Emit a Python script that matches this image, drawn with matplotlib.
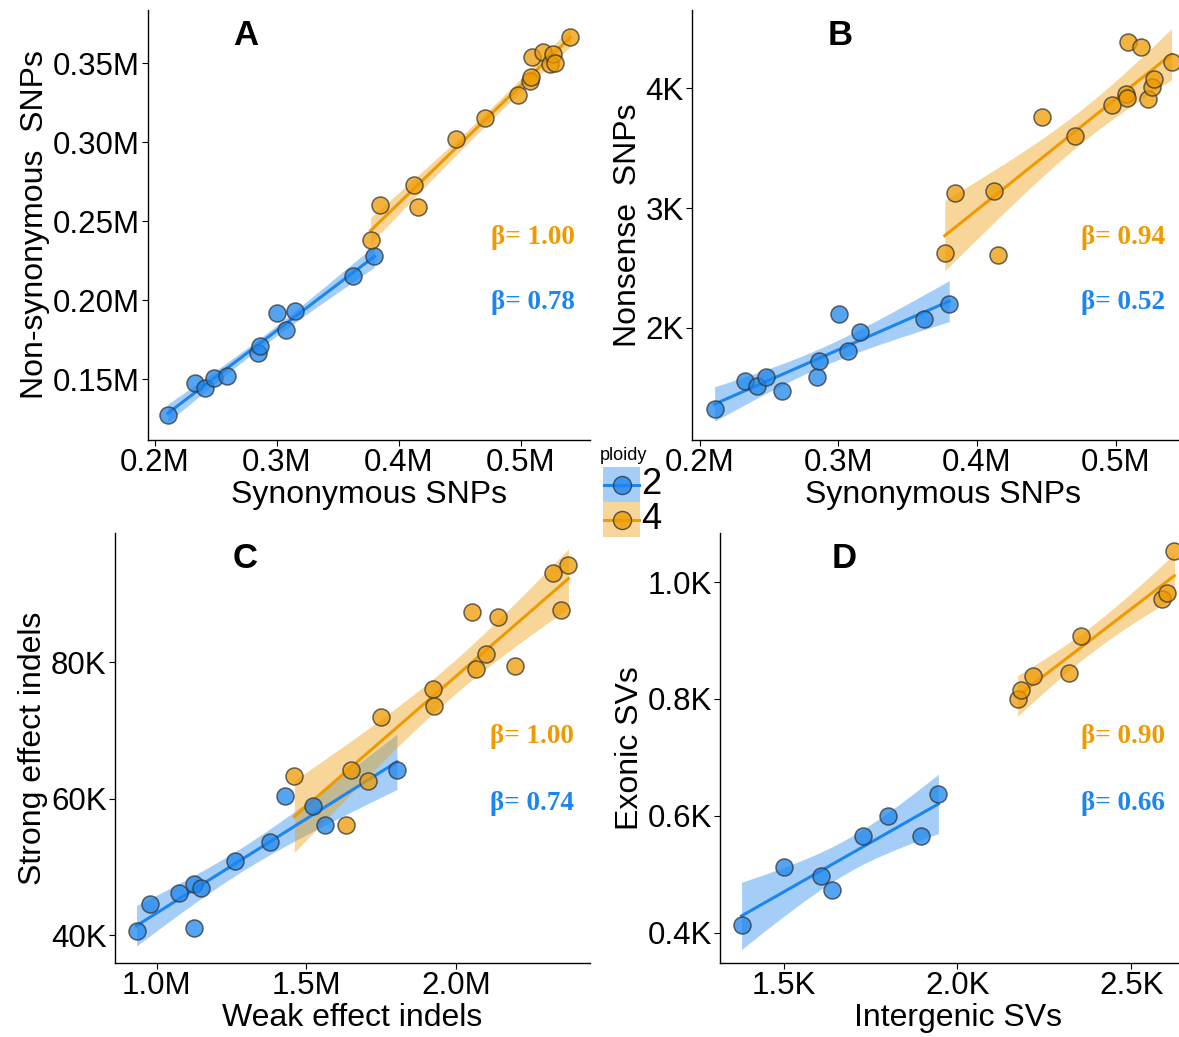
import numpy as np
import matplotlib
matplotlib.use("Agg")
import matplotlib.pyplot as plt
from matplotlib.patches import Rectangle
from matplotlib.lines import Line2D

plt.rcParams['font.family'] = ['Liberation Sans', 'DejaVu Sans']

BLUE = '#1C86EE'
ORANGE = '#EE9A00'

# Panel A/B: synonymous SNPs (M)
syn_2 = [0.2108, 0.2330, 0.2412, 0.2482, 0.2592, 0.2849, 0.2861, 0.3005, 0.3072, 0.3153, 0.3621, 0.3800]
syn_4 = [0.3768, 0.3845, 0.4122, 0.4153, 0.4468, 0.4707, 0.4974, 0.5073, 0.5079, 0.5091, 0.5182, 0.5235, 0.5264, 0.5278, 0.5403]
# non-synonymous SNPs (M)
nonsyn_2 = [0.1272, 0.1473, 0.1445, 0.1508, 0.1521, 0.1662, 0.1711, 0.1920, 0.1814, 0.1930, 0.2152, 0.2278]
nonsyn_4 = [0.2384, 0.2605, 0.2732, 0.2591, 0.3021, 0.3154, 0.3297, 0.3386, 0.3413, 0.3540, 0.3572, 0.3498, 0.3561, 0.3502, 0.3667]
# nonsense SNPs (K)
nonsense_2 = [1.322, 1.559, 1.517, 1.587, 1.470, 1.587, 1.727, 2.112, 1.805, 1.969, 2.070, 2.201]
nonsense_4 = [2.628, 3.130, 3.144, 2.611, 3.763, 3.604, 3.861, 3.950, 3.920, 4.391, 4.349, 3.908, 4.008, 4.075, 4.223]

# Panel C: weak (M) vs strong (K) effect indels
weak_2 = [0.932, 0.977, 1.073, 1.125, 1.147, 1.124, 1.262, 1.377, 1.428, 1.524, 1.563, 1.803]
strong_2 = [40.63, 44.63, 46.20, 47.56, 46.93, 41.12, 50.88, 53.66, 60.34, 58.88, 56.20, 64.24]
weak_4 = [1.460, 1.633, 1.648, 1.707, 1.751, 1.925, 1.927, 2.055, 2.068, 2.102, 2.141, 2.198, 2.326, 2.353, 2.377]
strong_4 = [63.32, 56.20, 64.24, 62.54, 71.95, 76.10, 73.51, 87.32, 78.93, 81.22, 86.59, 79.41, 93.07, 87.56, 94.15]

# Panel D: intergenic vs exonic SVs (K)
inter_2 = [1.379, 1.501, 1.608, 1.638, 1.727, 1.801, 1.895, 1.945]
exon_2 = [0.4137, 0.5123, 0.4964, 0.4736, 0.5648, 0.5990, 0.5648, 0.6378]
inter_4 = [2.173, 2.184, 2.217, 2.320, 2.356, 2.588, 2.604, 2.624]
exon_4 = [0.7992, 0.8146, 0.8391, 0.8443, 0.9070, 0.9703, 0.9811, 1.0530]

betas = {'A': ('1.00', '0.78'), 'B': ('0.94', '0.52'), 'C': ('1.00', '0.74'), 'D': ('0.90', '0.66')}

# t(0.975, df)
T975 = {6: 2.447, 10: 2.228, 13: 2.160}


def smooth(ax, x, y, color):
    x = np.asarray(x); y = np.asarray(y)
    n = len(x)
    b, a = np.polyfit(x, y, 1)
    xs = np.linspace(x.min(), x.max(), 80)
    fit = a + b * xs
    resid = y - (a + b * x)
    s = np.sqrt(np.sum(resid ** 2) / (n - 2))
    sxx = np.sum((x - x.mean()) ** 2)
    se = s * np.sqrt(1.0 / n + (xs - x.mean()) ** 2 / sxx)
    t = T975[n - 2]
    ax.fill_between(xs, fit - t * se, fit + t * se, color=color, alpha=0.4, lw=0, zorder=1)
    ax.plot(xs, fit, color=color, lw=2.2, zorder=2)


def panel(rect, letter, letter_x, x2, y2, x4, y4, xlim, ylim, xt, xtl, yt, ytl, xlabel, ylabel, by, bx):
    ax = fig.add_axes(rect)
    smooth(ax, x2, y2, BLUE)
    smooth(ax, x4, y4, ORANGE)
    ax.scatter(x2, y2, s=150, facecolor=BLUE, edgecolor='#333333', alpha=0.75, lw=1.1, zorder=3)
    ax.scatter(x4, y4, s=150, facecolor=ORANGE, edgecolor='#333333', alpha=0.75, lw=1.1, zorder=3)
    ax.set_xlim(xlim)
    ax.set_ylim(ylim)
    ax.set_xticks(xt)
    ax.set_xticklabels(xtl)
    ax.set_yticks(yt)
    ax.set_yticklabels(ytl)
    ax.set_xlabel(xlabel, fontsize=23, labelpad=1)
    ax.set_ylabel(ylabel, fontsize=23, labelpad=2)
    ax.tick_params(labelsize=22.5, length=4, width=0.8, pad=2, colors='black')
    for sp in ['top', 'right']:
        ax.spines[sp].set_visible(False)
    for sp in ['left', 'bottom']:
        ax.spines[sp].set_linewidth(1.0)
    ax.text(letter_x, 0.94, letter, transform=ax.transAxes, fontsize=25, fontweight='bold',
            ha='center', va='center')
    b4, b2 = betas[letter]
    ax.text(bx, by[0], '\u03b2= ' + b4, transform=ax.transAxes, ha='right', va='center',
            fontsize=19.5, fontweight='bold', color=ORANGE, family='Liberation Serif')
    ax.text(bx, by[1], '\u03b2= ' + b2, transform=ax.transAxes, ha='right', va='center',
            fontsize=19.5, fontweight='bold', color=BLUE, family='Liberation Serif')
    return ax


W, H = 1179, 1037
fig = plt.figure(figsize=(W / 100, H / 100), dpi=100)


def box(l, r, t, b):
    return [l / W, (H - b) / H, (r - l) / W, (b - t) / H]


panel(box(148, 590, 10, 440), 'A', 0.22, syn_2, nonsyn_2, syn_4, nonsyn_4,
      (0.1945, 0.5565), (0.1114, 0.3838),
      [0.2, 0.3, 0.4, 0.5], ['0.2M', '0.3M', '0.4M', '0.5M'],
      [0.15, 0.20, 0.25, 0.30, 0.35], ['0.15M', '0.20M', '0.25M', '0.30M', '0.35M'],
      'Synonymous SNPs', 'Non-synonymous  SNPs', (0.472, 0.319), 0.966)

panel(box(692, 1194, 10, 440), 'B', 0.296, syn_2, nonsense_2, syn_4, nonsense_4,
      (0.1945, 0.5565), (1.063, 4.655),
      [0.2, 0.3, 0.4, 0.5], ['0.2M', '0.3M', '0.4M', '0.5M'],
      [2, 3, 4], ['2K', '3K', '4K'],
      'Synonymous SNPs', 'Nonsense  SNPs', (0.472, 0.319), 0.942)

panel(box(115, 590, 533, 963), 'C', 0.274, weak_2, strong_2, weak_4, strong_4,
      (0.860, 2.449), (35.95, 98.9),
      [1.0, 1.5, 2.0], ['1.0M', '1.5M', '2.0M'],
      [40, 60, 80], ['40K', '60K', '80K'],
      'Weak effect indels', 'Strong effect indels', (0.526, 0.372), 0.966)

panel(box(720, 1196, 533, 963), 'D', 0.26, inter_2, exon_2, inter_4, exon_4,
      (1.317, 2.686), (0.348, 1.084),
      [1.5, 2.0, 2.5], ['1.5K', '2.0K', '2.5K'],
      [0.4, 0.6, 0.8, 1.0], ['0.4K', '0.6K', '0.8K', '1.0K'],
      'Intergenic SVs', 'Exonic SVs', (0.526, 0.372), 0.935)

# legend
def fx(px):
    return px / W


def fy(py):
    return (H - py) / H


fig.text(fx(600), fy(455), 'ploidy', fontsize=13, ha='left', va='center')
for i, (col, lab) in enumerate([(BLUE, '2'), (ORANGE, '4')]):
    top = 467 + i * 35
    fig.patches.append(Rectangle((fx(603), fy(top + 35)), 37 / W, 35 / H, transform=fig.transFigure,
                                 facecolor=col, alpha=0.4, lw=0))
    cy = fy(top + 17.5)
    fig.lines.append(Line2D([fx(604), fx(639)], [cy, cy], transform=fig.transFigure, color=col, lw=2.2))
    fig.lines.append(Line2D([fx(621.5)], [cy], transform=fig.transFigure, marker='o', markersize=13,
                            markerfacecolor=col, markeredgecolor='#333333', alpha=0.8, lw=0))
    fig.text(fx(641), cy, lab, fontsize=26, ha='left', va='center')

fig.savefig('out.png', dpi=100)
